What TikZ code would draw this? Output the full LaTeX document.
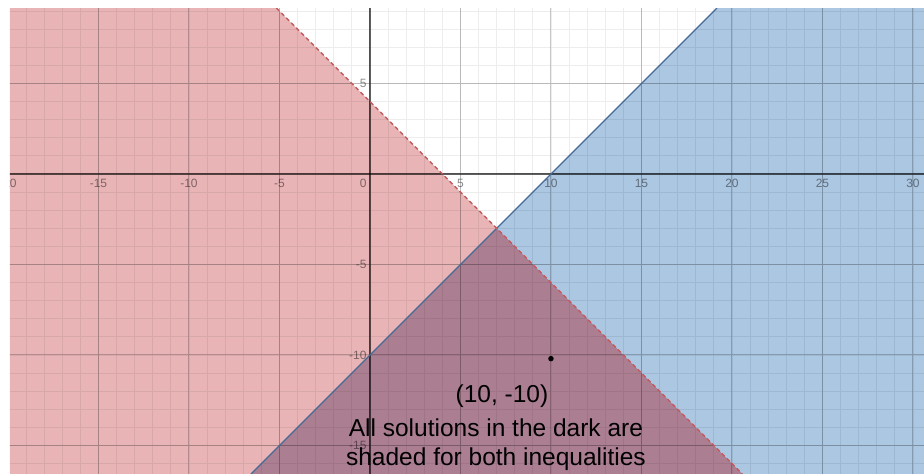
\documentclass[tikz,border=0pt]{standalone}
\usepackage{fontspec}
\setmainfont{Liberation Sans}
\usetikzlibrary{positioning}
\definecolor{redfill}{RGB}{232,180,182}
\definecolor{bluefill}{RGB}{172,199,226}
\definecolor{darkfill}{RGB}{172,126,146}
\definecolor{rededge}{RGB}{196,90,92}
\definecolor{blueedge}{RGB}{70,105,150}

\begin{document}
\begin{tikzpicture}[x=18.1pt,y=18.1pt,
  minorgrid/.style={black,opacity=0.07,line width=0.8pt},
  majorgrid/.style={black,opacity=0.22,line width=1pt},
  axisline/.style={black,opacity=0.6,line width=1.8pt},
  ticklbl/.style={font=\fontsize{12}{12}\selectfont,text=black,text opacity=0.45,inner sep=1.5pt},
  redline/.style={draw=rededge,line width=1.5pt,dash pattern=on 4pt off 3pt},
  blueline/.style={draw=blueedge,line width=1.3pt},
  dot/.style={circle,fill=black,inner sep=0pt,minimum size=5.5pt},
  note/.style={font=\fontsize{24.5}{29}\selectfont,align=center,inner sep=0pt}]
\useasboundingbox (-20.44,-16.575) rectangle (30.61,9.613);
% ends of the two boundary lines
\coordinate (rtop) at (-5.17,9.17);
\coordinate (rbot) at (20.575,-16.575);
\coordinate (btop) at (19.17,9.17);
\coordinate (bbot) at (-6.575,-16.575);
\coordinate (meet) at (7,-3);
\begin{scope}
\clip (-19.89,-16.575) rectangle (30.61,9.17);
% shaded half-planes
\fill[redfill] (-19.89,9.17) -- (rtop) -- (rbot) -- (-19.89,-16.575) -- cycle;
\fill[bluefill] (btop) -- (30.61,9.17) -- (30.61,-16.575) -- (bbot) -- cycle;
\fill[darkfill] (meet) -- (rbot) -- (bbot) -- cycle;
% grid and axes
\draw[minorgrid,step=1] (-21,-17) grid (31,10);
\draw[majorgrid,step=5] (-21,-17) grid (31,10);
\draw[axisline] (-21,0) -- (31,0);
\draw[axisline] (0,-17) -- (0,10);
\foreach \x in {-20,-15,-10,-5,5,10,15,20,25,30}
  \node[ticklbl,anchor=north] at (\x,-0.2) {\x};
\node[ticklbl,anchor=north east] at (-0.1,-0.2) {0};
\foreach \y in {5,-5,-10,-15}
  \node[ticklbl,anchor=east] at (-0.1,\y) {\y};
% boundaries
\draw[blueline] (btop) -- (bbot);
\draw[redline] (rtop) -- (rbot);
\end{scope}
\node[dot] (pt) at (10,-10.2) {};
\node[note,anchor=base] (ptlbl) at (7.29,-12.6) {(10, -10)};
\node[note,anchor=base] (msg) at (6.96,-16.13) {All solutions in the dark are\\shaded for both inequalities};
\end{tikzpicture}
\end{document}
